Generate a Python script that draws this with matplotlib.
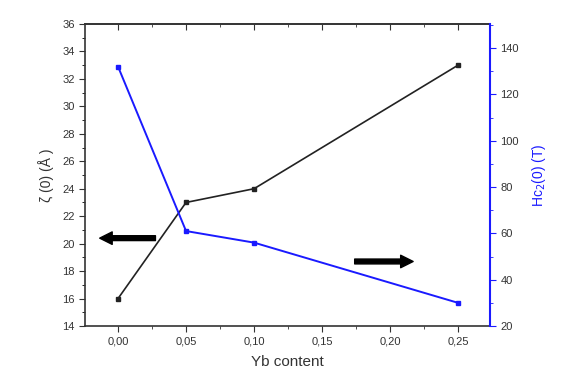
import matplotlib
matplotlib.use("Agg")
import matplotlib.pyplot as plt

yb = [0.00, 0.05, 0.10, 0.25]
xi0 = [16, 23, 24, 33]
hc2 = [132, 61, 56, 30]
xticks = [0.00, 0.05, 0.10, 0.15, 0.20, 0.25]
xticklabels = ["0,00", "0,05", "0,10", "0,15", "0,20", "0,25"]

plt.rcParams['font.family'] = ['Liberation Sans', 'DejaVu Sans']

fig = plt.figure(figsize=(5.71, 3.90), dpi=100)
ax = fig.add_axes([85/571, 1-326/390, (490-85)/571, (326-24)/390])
ax2 = ax.twinx()

ax.plot(yb, xi0, '-s', color='#222222', lw=1.2, ms=2.5)
ax2.plot(yb, hc2, '-s', color='#1a1aff', lw=1.4, ms=2.5)

ax.set_xlim(-0.0243, 0.2735)
ax.set_ylim(14, 36)
ax2.set_ylim(20, 150.4)

minor_x = [0.025, 0.075, 0.125, 0.175, 0.225]
ax.set_xticks(xticks)
ax.set_xticklabels(xticklabels)
ax.set_xticks(minor_x, minor=True)
ax.set_yticks(range(14, 37, 2))
ax.set_yticks(range(15, 36, 2), minor=True)
ax2.set_yticks(range(20, 141, 20))
ax2.set_yticks(range(30, 151, 20), minor=True)

ax.tick_params(axis='x', which='both', direction='out', top=False, labelsize=8, colors='#333333')
ax.tick_params(axis='x', which='major', length=4)
ax.tick_params(axis='x', which='minor', length=2)
ax.tick_params(axis='y', which='major', direction='out', length=4, labelsize=8, colors='#333333')
ax.tick_params(axis='y', which='minor', direction='out', length=2)
ax2.tick_params(axis='y', which='major', direction='out', length=4, labelsize=8, color='#1a1aff', labelcolor='#333333')
ax2.tick_params(axis='y', which='minor', direction='out', length=2, color='#1a1aff')

top = ax.secondary_xaxis('top')
top.set_xticks(xticks)
top.set_xticks(minor_x, minor=True)
top.tick_params(which='both', direction='in', labeltop=False, colors='#333333')
top.tick_params(which='major', length=4)
top.tick_params(which='minor', length=2)
top.spines['top'].set_color('#333333')
top.spines['top'].set_linewidth(1.2)

for s in ['left', 'bottom', 'top']:
    ax.spines[s].set_color('#333333')
    ax.spines[s].set_linewidth(1.2)
ax2.spines['right'].set_color('#1a1aff')
ax2.spines['right'].set_linewidth(1.5)
ax.spines['right'].set_visible(False)
for s in ['left', 'bottom', 'top']:
    ax2.spines[s].set_visible(False)

ax.set_xlabel("Yb content", fontsize=11, color='#333333', labelpad=6)
ax.set_ylabel("ζ (0) (Å )", fontsize=10, color='#333333', labelpad=6)
ax2.set_ylabel("Hc$_2$(0) (T)", fontsize=10, color='#1a1aff', labelpad=8)

arrow_kw = dict(facecolor='black', edgecolor='black', width=3.5, headwidth=9, headlength=9, shrink=0)
ax.annotate("", xy=(-0.0135, 20.4), xytext=(0.0275, 20.4), arrowprops=arrow_kw)
ax.annotate("", xy=(0.217, 18.7), xytext=(0.174, 18.7), arrowprops=arrow_kw)

fig.savefig("out.png", dpi=100)
